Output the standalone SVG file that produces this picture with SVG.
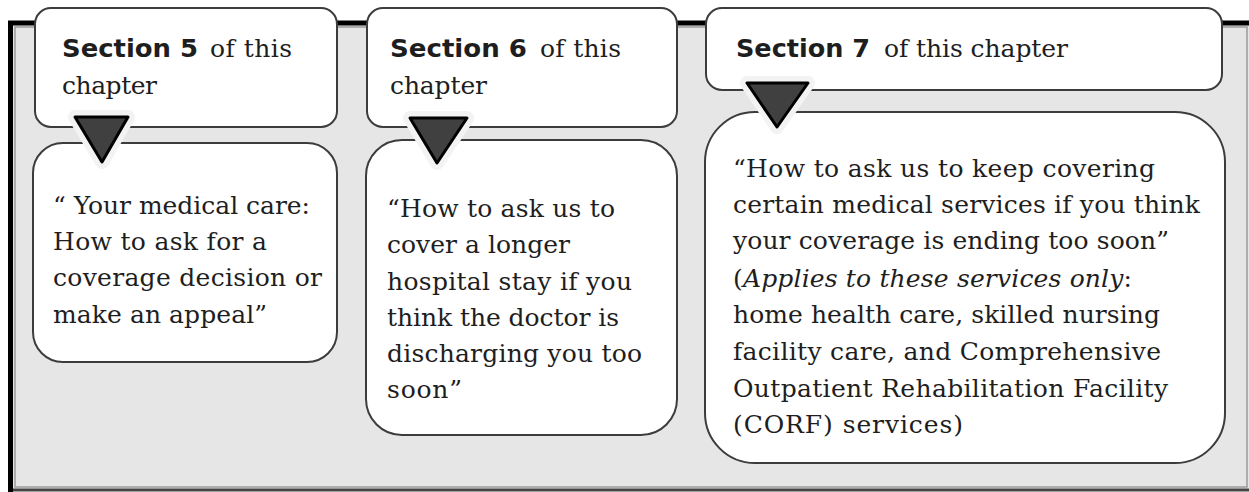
<svg xmlns="http://www.w3.org/2000/svg" width="1249" height="492" viewBox="0 0 1249 492">
<style>
.box{fill:#fff;stroke:#3c3c3c;stroke-width:2}
.hb{font-family:"DejaVu Sans",sans-serif;font-weight:bold;font-size:24px;fill:#1e1e1e}
.t{font-family:"DejaVu Serif","Liberation Serif",serif;font-size:25px;fill:#1e1e1e}
.it{font-style:italic}
.halo{fill:#f3f3f3;stroke:#f3f3f3;stroke-width:14;stroke-linejoin:round}
.tri{fill:#404040;stroke:#000;stroke-width:3;stroke-linejoin:round}
</style>
<rect width="1249" height="492" fill="#fff"/>
<g id="frame">
<rect x="10" y="22" width="1245" height="467" fill="#e6e6e6"/>
<rect x="15" y="27" width="1232" height="460" fill="none" stroke="#9a9a9a" stroke-width="1.5"/>
<line x1="10" y1="490" x2="1249" y2="490" stroke="#444" stroke-width="3"/>
<line x1="8" y1="23" x2="1249" y2="23" stroke="#000" stroke-width="5"/>
<line x1="10.5" y1="21" x2="10.5" y2="492" stroke="#000" stroke-width="5"/>
</g>
<g id="n1">
<rect class="box" x="35" y="8" width="302" height="119" rx="16"/>
<rect class="box" x="33" y="143" width="304" height="219" rx="30"/>
</g>
<g id="n2">
<rect class="box" x="367" y="8" width="310" height="119" rx="16"/>
<rect class="box" x="366" y="140" width="311" height="295" rx="36"/>
</g>
<g id="n3">
<rect class="box" x="706" y="8" width="516" height="82" rx="16"/>
<rect class="box" x="705" y="112" width="520" height="351" rx="50"/>
</g>
<g id="connectors">
<polygon class="halo" points="75,117 128,117 102,162"/>
<polygon class="tri" points="75,117 128,117 102,162"/>
<polygon class="halo" points="410,118 467,118 437,163"/>
<polygon class="tri" points="410,118 467,118 437,163"/>
<polygon class="halo" points="747,83 808,83 777,127"/>
<polygon class="tri" points="747,83 808,83 777,127"/>
</g>
<g id="n1-text">
<text class="hb" x="62" y="57" textLength="136" lengthAdjust="spacingAndGlyphs">Section 5</text>
<text class="t" x="210" y="57" textLength="82" lengthAdjust="spacing">of this</text>
<text class="t" x="62" y="94" textLength="95" lengthAdjust="spacing">chapter</text>
<text class="t" x="53" y="214" textLength="257" lengthAdjust="spacing">“ Your medical care:</text>
<text class="t" x="53" y="250" textLength="214" lengthAdjust="spacing">How to ask for a</text>
<text class="t" x="53" y="286" textLength="269" lengthAdjust="spacing">coverage decision or</text>
<text class="t" x="53" y="323" textLength="214" lengthAdjust="spacing">make an appeal”</text>
</g>
<g id="n2-text">
<text class="hb" x="390" y="57" textLength="137" lengthAdjust="spacingAndGlyphs">Section 6</text>
<text class="t" x="540" y="57" textLength="81" lengthAdjust="spacing">of this</text>
<text class="t" x="390" y="94" textLength="97" lengthAdjust="spacing">chapter</text>
<text class="t" x="387" y="217" textLength="228" lengthAdjust="spacing">“How to ask us to</text>
<text class="t" x="387" y="253" textLength="183" lengthAdjust="spacing">cover a longer</text>
<text class="t" x="387" y="290" textLength="245" lengthAdjust="spacing">hospital stay if you</text>
<text class="t" x="387" y="326" textLength="232" lengthAdjust="spacing">think the doctor is</text>
<text class="t" x="387" y="362" textLength="255" lengthAdjust="spacing">discharging you too</text>
<text class="t" x="387" y="398" textLength="75" lengthAdjust="spacing">soon”</text>
</g>
<g id="n3-text">
<text class="hb" x="736" y="57" textLength="134" lengthAdjust="spacingAndGlyphs">Section 7</text>
<text class="t" x="884" y="57" textLength="184" lengthAdjust="spacing">of this chapter</text>
<text class="t" x="733" y="177" textLength="422" lengthAdjust="spacing">“How to ask us to keep covering</text>
<text class="t" x="733" y="213" textLength="467" lengthAdjust="spacing">certain medical services if you think</text>
<text class="t" x="733" y="249" textLength="436" lengthAdjust="spacing">your coverage is ending too soon”</text>
<text class="t" x="733" y="287" textLength="399" lengthAdjust="spacing">(<tspan class="it">Applies to these services only</tspan>:</text>
<text class="t" x="733" y="323" textLength="427" lengthAdjust="spacing">home health care, skilled nursing</text>
<text class="t" x="733" y="360" textLength="428" lengthAdjust="spacing">facility care, and Comprehensive</text>
<text class="t" x="733" y="397" textLength="435" lengthAdjust="spacing">Outpatient Rehabilitation Facility</text>
<text class="t" x="733" y="433" textLength="230" lengthAdjust="spacing">(CORF) services)</text>
</g>
</svg>
